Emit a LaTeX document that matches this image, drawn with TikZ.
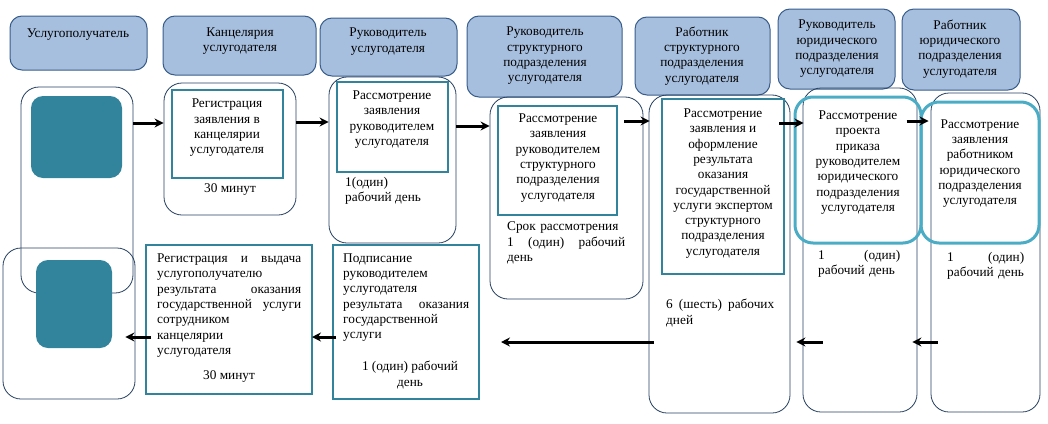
\documentclass[tikz,border=0pt]{standalone}
\usepackage{fontspec}
\setmainfont{Liberation Serif}
\usetikzlibrary{arrows.meta,fit}
\definecolor{hdrfill}{HTML}{A7BFDE}
\definecolor{hdrline}{HTML}{385D8A}
\definecolor{navy}{HTML}{243F60}
\definecolor{tealfill}{HTML}{31849B}
\definecolor{lightb}{HTML}{4BACC6}
\newcommand\dfont{\rmfamily\fontsize{13.3}{15.3}\selectfont}
\tikzset{
  hdr/.style={draw=hdrline, fill=hdrfill, line width=1pt, rounded corners=12pt, inner sep=0pt},
  cont/.style={draw=navy, line width=0.8pt, rounded corners=18pt, inner sep=0pt},
  tsq/.style={fill=tealfill, rounded corners=12pt, inner sep=0pt},
  ibox/.style={draw=tealfill, line width=2pt, inner sep=0pt},
  tbox/.style={draw=lightb, line width=3pt, rounded corners=18pt, inner sep=0pt},
  txt/.style={inner sep=0pt, font=\dfont, align=center},
  ltxt/.style={inner sep=0pt, font=\dfont, align=left, anchor=west},
  arr/.style={line width=3pt, -{Stealth[length=9pt,width=9pt]}}
}
\begin{document}
\begin{tikzpicture}[x=1pt,y=-1pt]
\useasboundingbox (0,0) rectangle (1048,423);
% headers
\node[hdr, fit={(10,16)(147,70)}] (h1) {};
\node[hdr, fit={(163,16)(316,75)}] (h2) {};
\node[hdr, fit={(320,18)(457,76)}] (h3) {};
\node[hdr, fit={(467,16)(622,97)}] (h4) {};
\node[hdr, fit={(635,17)(770,95)}] (h5) {};
\node[hdr, fit={(778,9)(895,89)}] (h6) {};
\node[hdr, fit={(902,9)(1020,90)}] (h7) {};
\node[txt] (h1t) at (78,35) {Услугополучатель};
\node[txt] (h2t) at (240,41) {Канцелярия\\услугодателя};
\node[txt] (h3t) at (388,41.5) {Руководитель\\услугодателя};
\node[txt] (h4t) at (545,56) {Руководитель\\структурного\\подразделения\\услугодателя};
\node[txt] (h5t) at (702,56) {Работник\\структурного\\подразделения\\услугодателя};
\node[txt] (h6t) at (837,49) {Руководитель\\юридического\\подразделения\\услугодателя};
\node[txt] (h7t) at (960,49) {Работник\\юридического\\подразделения\\услугодателя};
% containers
\node[cont, fit={(21,87)(133,293)}] (A) {};
\node[cont, fit={(3,248)(135,399)}] (B) {};
\node[tsq, fit={(31,96)(122,178)}] (Asq) {};
\node[tsq, fit={(36,260)(112,348)}] (Bsq) {};
\node[cont, fit={(164,83)(296,215)}] (C) {};
\node[ibox, fit={(172,90)(283,178)}] (Cin) {};
\node[cont, fit={(329,77)(456,243)}] (D) {};
\node[ibox, fit={(337,82)(448,172)}] (Din) {};
\node[cont, fit={(490,97)(643,299)}] (E) {};
\node[ibox, fit={(498,106)(617,215)}] (Ein) {};
\node[cont, fit={(649,95)(790,413)}] (F) {};
\node[ibox, fit={(662,99)(784,274)}] (Fin) {};
\node[cont, fit={(803,88)(917,412)}] (G) {};
\node[tbox, fit={(795,97)(921,243)}] (Gin) {};
\node[cont, fit={(931,93)(1040,412)}] (H) {};
\node[tbox, fit={(921,102)(1039,243)}] (Hin) {};
\node[ibox, fit={(333,245)(479,399)}] (I) {};
\node[ibox, fit={(146,245)(312,394)}] (J) {};
% texts
\node[txt] (Ct) at (227,128) {Регистрация\\заявления в\\канцелярии\\услугодателя};
\node[txt] (Cm) at (230,190) {30 минут};
\node[txt] (Dt) at (392,119.5) {Рассмотрение\\заявления\\руководителем\\услугодателя};
\node[ltxt] (Dm) at (345,190.5) {1(один)\\рабочий день};
\node[txt] (Et) at (558,158) {Рассмотрение\\заявления\\руководителем\\структурного\\подразделения\\услугодателя};
\node[ltxt, text width=118pt] (Em) at (507,243) {Срок рассмотрения\\1\hfill(один)\hfill рабочий\\день};
\node[txt] (Ft) at (723,183.5) {Рассмотрение\\заявления и\\оформление\\результата\\оказания\\государственной\\услуги экспертом\\структурного\\подразделения\\услугодателя};
\node[ltxt, text width=108pt] (Fm) at (666,313) {6\hfill(шесть)\hfill рабочих\\дней};
\node[txt] (Gt) at (858,162.5) {Рассмотрение\\проекта\\приказа\\руководителем\\юридического\\подразделения\\услугодателя};
\node[ltxt, text width=82pt] (Gm) at (818,264) {1\hfill(один)\\\mbox{рабочий день}};
\node[txt] (Ht) at (980,163.5) {Рассмотрение\\заявления\\работником\\юридического\\подразделения\\услугодателя};
\node[ltxt, text width=77pt] (Hm) at (947,266) {1\hfill(один)\\\mbox{рабочий день}};
\node[ltxt, text width=126pt] (It) at (343,297.5) {Подписание\\руководителем\\услугодателя\\результата\hfill оказания\\государственной\\услуги};
\node[txt] (Im) at (410,375) {1 (один) рабочий\\день};
\node[ltxt, text width=144pt] (Jt) at (157,305.5) {Регистрация\hfill и\hfill выдача\\услугополучателю\\результата\hfill оказания\\государственной\hfill услуги\\сотрудником\\канцелярии\\услугодателя};
\node[txt] (Jm) at (229,377) {30 минут};
% arrows top
\draw[arr] (A.east |- 0,123) -- (C.west |- 0,123);
\draw[arr] (C.east |- 0,122) -- (D.west |- 0,122);
\draw[arr] (D.east |- 0,126) -- (E.west |- 0,126);
\draw[arr] ([xshift=6pt]Ein.east |- 0,121) -- ([xshift=1pt]F.west |- 0,121);
\draw[arr] ([xshift=-6pt]Fin.east |- 0,123) -- ([xshift=10pt]Gin.west |- 0,123);
\draw[arr] ([xshift=-16pt]Gin.east |- 0,121) -- ([xshift=9pt]Hin.west |- 0,121);
% arrows bottom
\draw[arr] ([xshift=7pt]H.west |- 0,342) -- ([xshift=-5pt]G.east |- 0,342);
\draw[arr] ([xshift=20pt]G.west |- 0,342) -- ([xshift=6pt]F.east |- 0,342);
\draw[arr] ([xshift=5pt]F.west |- 0,342) -- ([xshift=21pt]I.east |- 0,342);
\draw[arr] ([xshift=4pt]I.west |- 0,337) -- ([xshift=-1pt]J.east |- 0,337);
\draw[arr] ([xshift=6pt]J.west |- 0,337) -- ([xshift=-10pt]B.east |- 0,337);
\end{tikzpicture}
\end{document}
